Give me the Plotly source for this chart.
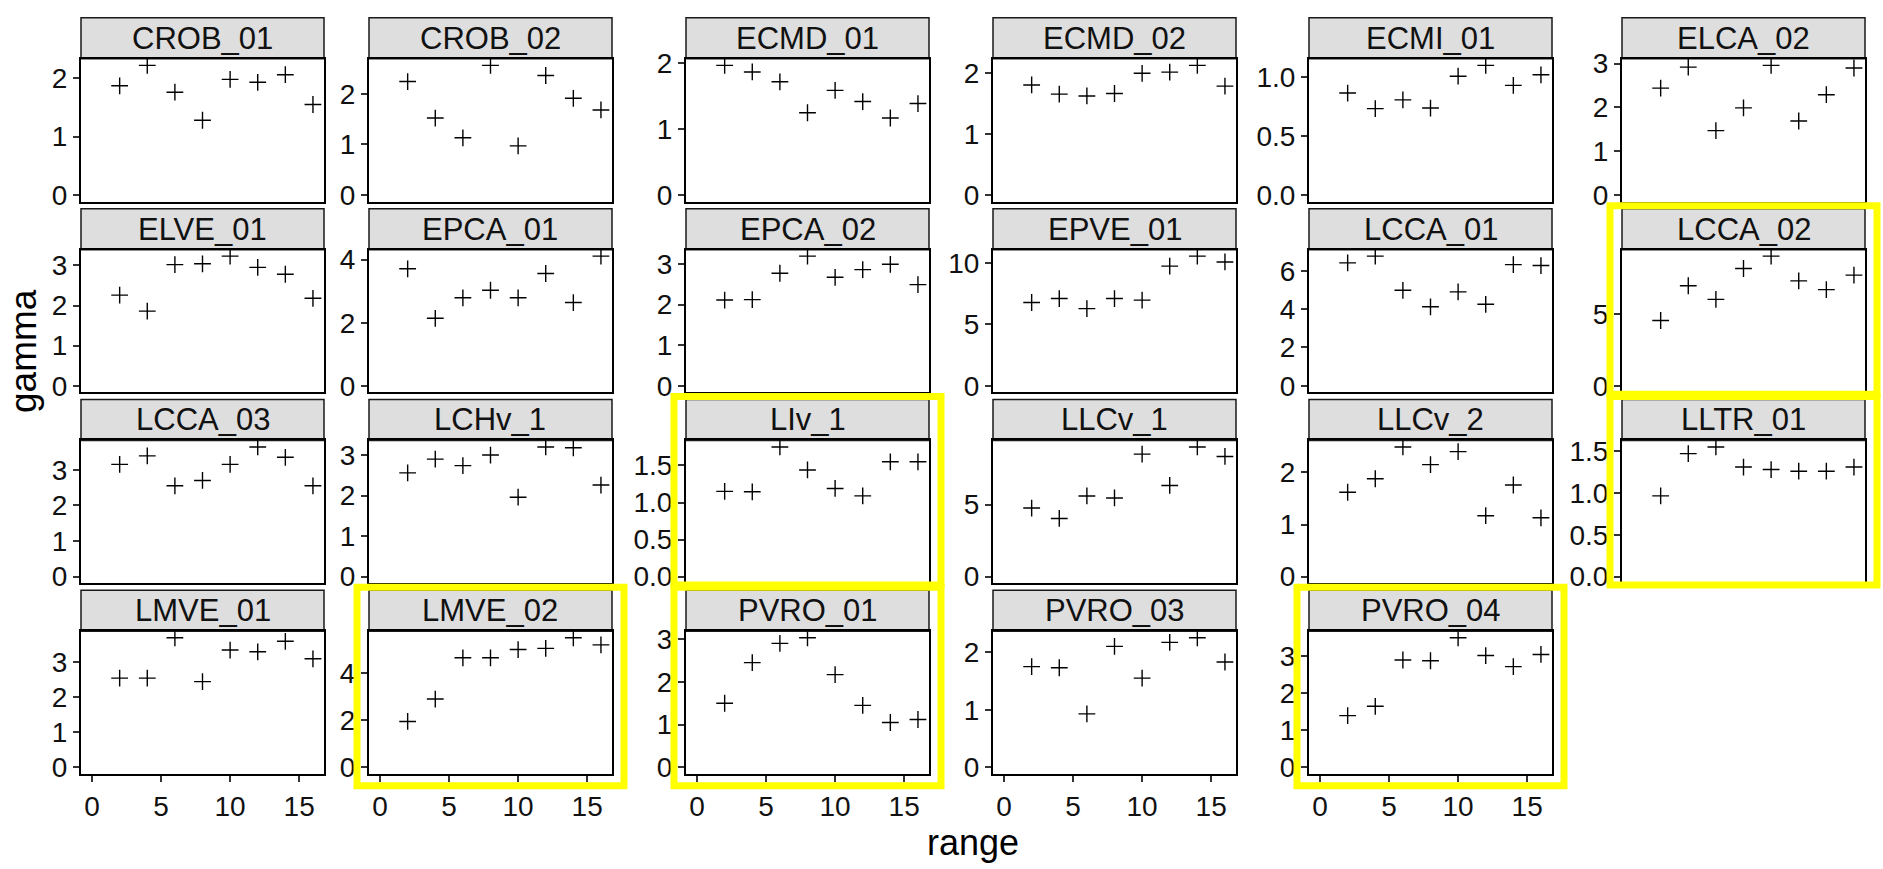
import plotly.graph_objects as go

# ---------------- data ----------------
sites = ["CROB_01", "CROB_02", "ECMD_01", "ECMD_02", "ECMI_01", "ELCA_02",
         "ELVE_01", "EPCA_01", "EPCA_02", "EPVE_01", "LCCA_01", "LCCA_02",
         "LCCA_03", "LCHv_1", "LIv_1", "LLCv_1", "LLCv_2", "LLTR_01",
         "LMVE_01", "LMVE_02", "PVRO_01", "PVRO_03", "PVRO_04"]

range_vals = [2, 4, 6, 8, 10, 12, 14, 16]

crob_01 = [1.87, 2.22, 1.76, 1.28, 1.98, 1.93, 2.06, 1.55]
crob_02 = [2.24, 1.52, 1.13, 2.56, 0.97, 2.36, 1.91, 1.68]
ecmd_01 = [1.97, 1.87, 1.72, 1.25, 1.59, 1.42, 1.17, 1.39]
ecmd_02 = [1.80, 1.65, 1.62, 1.66, 1.99, 2.01, 2.12, 1.78]
ecmi_01 = [0.865, 0.733, 0.807, 0.738, 1.008, 1.10, 0.93, 1.02]
elca_02 = [2.44, 2.92, 1.47, 1.99, 2.96, 1.69, 2.29, 2.90]
elve_01 = [2.26, 1.86, 3.02, 3.04, 3.23, 2.95, 2.78, 2.18]
epca_01 = [3.71, 2.14, 2.79, 3.03, 2.79, 3.56, 2.64, 4.11]
epca_02 = [2.11, 2.12, 2.77, 3.19, 2.67, 2.86, 2.99, 2.49]
epve_01 = [6.78, 7.10, 6.28, 7.10, 6.97, 9.74, 10.55, 10.08]
lcca_01 = [6.41, 6.76, 4.98, 4.12, 4.90, 4.25, 6.32, 6.27]
lcca_02 = [4.55, 6.97, 6.02, 8.17, 9.03, 7.31, 6.70, 7.71]
lcca_03 = [3.15, 3.39, 2.55, 2.70, 3.15, 3.64, 3.35, 2.55]
lchv_1 = [2.56, 2.90, 2.74, 3.00, 1.96, 3.20, 3.18, 2.26]
liv_1 = [1.15, 1.145, 1.75, 1.44, 1.19, 1.09, 1.55, 1.55]
llcv_1 = [4.76, 4.04, 5.60, 5.46, 8.50, 6.33, 9.00, 8.34]
llcv_2 = [1.62, 1.88, 2.49, 2.15, 2.40, 1.17, 1.76, 1.13]
lltr_01 = [0.965, 1.47, 1.55, 1.31, 1.28, 1.26, 1.26, 1.31]
lmve_01 = [2.55, 2.55, 3.70, 2.45, 3.35, 3.30, 3.60, 3.10]
lmve_02 = [1.95, 2.90, 4.65, 4.65, 5.00, 5.05, 5.50, 5.20]
pvro_01 = [1.50, 2.45, 2.90, 3.03, 2.17, 1.45, 1.05, 1.12]
pvro_03 = [1.75, 1.73, 0.93, 2.10, 1.55, 2.17, 2.25, 1.83]
pvro_04 = [1.40, 1.65, 2.90, 2.88, 3.50, 3.02, 2.72, 3.05]

gamma_by_site = [crob_01, crob_02, ecmd_01, ecmd_02, ecmi_01, elca_02,
                 elve_01, epca_01, epca_02, epve_01, lcca_01, lcca_02,
                 lcca_03, lchv_1, liv_1, llcv_1, llcv_2, lltr_01,
                 lmve_01, lmve_02, pvro_01, pvro_03, pvro_04]

highlighted = ["LCCA_02", "LLTR_01", "LIv_1", "LMVE_02", "PVRO_01", "PVRO_04"]
x_ticks = [0, 5, 10, 15]

# ---------------- layout geometry (pixels) ----------------
W, H = 1883, 869
NCOL = 6
col_left = [81, 369, 686, 993, 1309, 1622]
panel_w = 243
plot_top0 = 49
row_pitch = 195.3
plot_h = 146
strip_h = 42
FONT = "Liberation Sans, Arial, Helvetica, sans-serif"
n = len(sites)
last_row = (n - 1) // NCOL
bottom_panels = [i for i in range(n) if i // NCOL == last_row]


def nice_step(m):
    for s in [0.5, 1, 2, 5, 10, 20]:
        if m / s <= 3.8:
            return s
    return 50


fig = go.Figure()
shapes = []
annotations = []
layout = {}

for i, (name, vals) in enumerate(zip(sites, gamma_by_site)):
    r, c = divmod(i, NCOL)
    k = i + 1
    xa = "x" if k == 1 else f"x{k}"
    ya = "y" if k == 1 else f"y{k}"
    fig.add_trace(go.Scatter(
        x=range_vals, y=vals, mode="markers",
        marker=dict(symbol="cross-thin", size=12, color="black",
                    line=dict(width=1.4, color="black")),
        xaxis=xa, yaxis=ya, showlegend=False, hoverinfo="skip"))

    left = col_left[c]
    right = left + panel_w
    top = plot_top0 + r * row_pitch
    bottom = top + plot_h
    m = max(vals)
    step = nice_step(m)
    is_bottom = i in bottom_panels

    layout["xaxis" if k == 1 else f"xaxis{k}"] = dict(
        domain=[left / W, right / W], range=[-0.8, 16.8], anchor=ya,
        showgrid=False, zeroline=False, showline=True, mirror=True,
        linecolor="black", linewidth=2,
        tickvals=x_ticks if is_bottom else [],
        ticks="outside" if is_bottom else "", ticklen=6, tickwidth=2,
        tickcolor="#333333", showticklabels=is_bottom,
        tickfont=dict(size=28, color="#111111", family=FONT))
    layout["yaxis" if k == 1 else f"yaxis{k}"] = dict(
        domain=[1 - bottom / H, 1 - top / H], range=[-0.05 * m, 1.05 * m],
        anchor=xa, showgrid=False, zeroline=False, showline=True, mirror=True,
        linecolor="black", linewidth=2, tick0=0, dtick=step,
        tickformat=".1f" if step < 1 else "d",
        ticks="outside", ticklen=6, tickwidth=2, tickcolor="#333333",
        tickfont=dict(size=28, color="#111111", family=FONT))

    # strip
    shapes.append(dict(type="rect", xref="paper", yref="paper",
                       x0=left / W, x1=right / W,
                       y0=1 - top / H, y1=1 - (top - strip_h) / H,
                       fillcolor="#DEDEDE", line=dict(color="#1a1a1a", width=1.5),
                       layer="below"))
    annotations.append(dict(text=name, xref="paper", yref="paper",
                            x=(left + right) / 2 / W,
                            y=1 - (top - strip_h / 2) / H,
                            showarrow=False, xanchor="center", yanchor="middle",
                            font=dict(size=31, color="#111111", family=FONT)))

    if name in highlighted:
        pad_x = 12
        pad_t = 3
        pad_b = 12 if is_bottom else 2
        shapes.append(dict(type="rect", xref="paper", yref="paper",
                           x0=(left - pad_x) / W, x1=(right + pad_x) / W,
                           y0=1 - (bottom + pad_b) / H,
                           y1=1 - (top - strip_h - pad_t) / H,
                           line=dict(color="#FFFF00", width=7),
                           fillcolor="rgba(0,0,0,0)", layer="above"))

# axis titles
annotations.append(dict(text="gamma", xref="paper", yref="paper",
                        x=24 / W, y=1 - 348 / H, textangle=-90,
                        showarrow=False, xanchor="center", yanchor="middle",
                        font=dict(size=37, color="black", family=FONT)))
annotations.append(dict(text="range", xref="paper", yref="paper",
                        x=(col_left[0] + col_left[-1] + panel_w) / 2 / W,
                        y=1 - 851 / H,
                        showarrow=False, xanchor="center", yanchor="middle",
                        font=dict(size=36, color="black", family=FONT)))

fig.update_layout(**layout)
fig.update_layout(width=W, height=H, margin=dict(l=0, r=0, t=0, b=0),
                  paper_bgcolor="white", plot_bgcolor="white",
                  shapes=shapes, annotations=annotations,
                  font=dict(family=FONT))
fig.write_html("out.html")
